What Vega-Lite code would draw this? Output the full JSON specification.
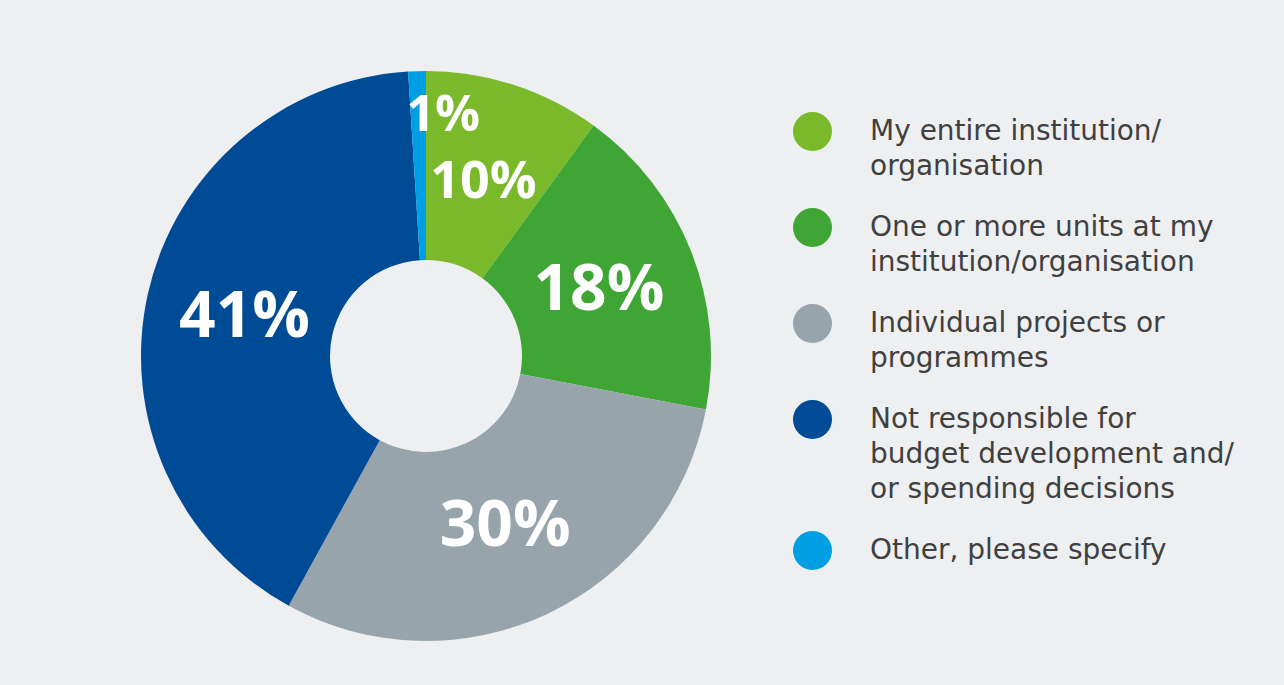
{
  "$schema": "https://vega.github.io/schema/vega-lite/v6.json",
  "width": 836,
  "height": 632,
  "autosize": {"type": "none"},
  "padding": {"left": 8, "top": 40, "right": 440, "bottom": 13},
  "background": "#eeeff1",
  "config": {"view": {"stroke": null}},
  "data": {
    "values": [
      {"option": 1, "answer": "My entire institution/organisation", "share": 0.10},
      {"option": 2, "answer": "One or more units at my institution/organisation", "share": 0.18},
      {"option": 3, "answer": "Individual projects or programmes", "share": 0.30},
      {"option": 4, "answer": "Not responsible for budget development and/or spending decisions", "share": 0.41},
      {"option": 5, "answer": "Other, please specify", "share": 0.01}
    ]
  },
  "encoding": {
    "theta": {"field": "share", "type": "quantitative", "stack": true},
    "order": {"field": "option", "type": "quantitative"}
  },
  "layer": [
    {
      "mark": {"type": "arc", "outerRadius": 285, "innerRadius": 96, "strokeWidth": 0},
      "encoding": {
        "color": {
          "field": "answer",
          "type": "nominal",
          "scale": {
            "domain": [
              "My entire institution/organisation",
              "One or more units at my institution/organisation",
              "Individual projects or programmes",
              "Not responsible for budget development and/or spending decisions",
              "Other, please specify"
            ],
            "range": ["#7ab929", "#3fa535", "#97a4ac", "#004b96", "#009fe3"]
          },
          "legend": {
            "title": null,
            "orient": "none",
            "direction": "vertical",
            "columns": 1,
            "legendX": 785,
            "legendY": 72,
            "padding": 0,
            "symbolType": "circle",
            "symbolSize": 1521,
            "symbolStrokeWidth": 0,
            "symbolOpacity": 1,
            "labelFont": "DejaVu Sans",
            "labelFontSize": 28,
            "labelColor": "#404040",
            "labelOffset": 38,
            "labelLimit": 600,
            "labelBaseline": "middle",
            "rowPadding": 27,
            "labelExpr": "datum.label == 'My entire institution/organisation' ? ['My entire institution/', 'organisation'] : datum.label == 'One or more units at my institution/organisation' ? ['One or more units at my', 'institution/organisation'] : datum.label == 'Individual projects or programmes' ? ['Individual projects or', 'programmes'] : datum.label == 'Not responsible for budget development and/or spending decisions' ? ['Not responsible for', 'budget development and/', 'or spending decisions'] : datum.label",
            "encode": {"labels": {"update": {"lineHeight": {"value": 35}}}}
          }
        }
      }
    },
    {
      "mark": {"type": "text", "radius": 186, "font": "Open Sans", "fontWeight": "bold", "color": "#ffffff", "dy": 3},
      "encoding": {
        "detail": {"field": "answer", "type": "nominal"},
        "text": {"field": "share", "type": "quantitative", "format": ".0%"},
        "size": {"condition": {"test": "datum.share >= 0.15", "value": 64}, "value": 52},
        "opacity": {"condition": {"test": "datum.share >= 0.05", "value": 1}, "value": 0}
      }
    },
    {
      "mark": {"type": "text", "radius": 242, "align": "left", "dx": -12, "dy": 2, "font": "Open Sans", "fontWeight": "bold", "color": "#ffffff", "fontSize": 50},
      "encoding": {
        "detail": {"field": "answer", "type": "nominal"},
        "text": {"field": "share", "type": "quantitative", "format": ".0%"},
        "opacity": {"condition": {"test": "datum.share < 0.05", "value": 1}, "value": 0}
      }
    }
  ]
}
